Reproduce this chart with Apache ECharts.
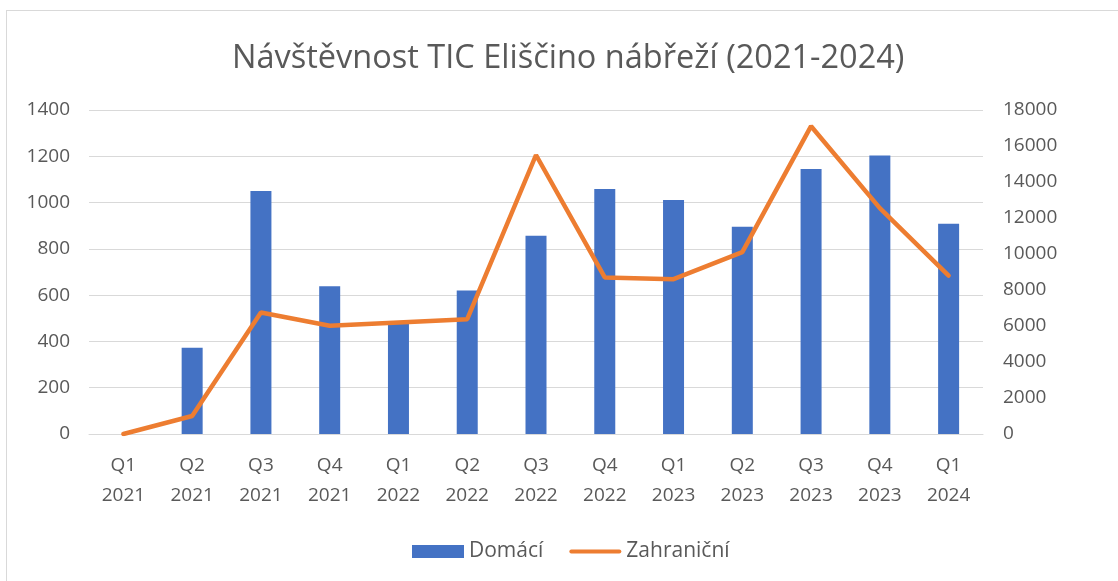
<!DOCTYPE html>
<html lang="cs">
<head>
<meta charset="utf-8">
<title>Návštěvnost TIC Eliščino nábřeží</title>
<script src="https://cdn.jsdelivr.net/npm/echarts@6/dist/echarts.min.js"></script>
<style>
  html, body {
    margin: 0;
    padding: 0;
    background: #fff;
  }

  .frame {
    position: absolute;
    left: 6px;
    top: 10px;
    width: 1200px;
    height: 700px;
    border-left: 1.5px solid #d9d9d9;
    border-top: 1.5px solid #d9d9d9;
  }

  #chart {
    position: absolute;
    left: 0;
    top: 0;
    width: 1118px;
    height: 581px;
  }
</style>
</head>
<body>
<div class="frame"></div>
<div id="chart"></div>

<script>
// kvartály
const quarters = ["Q1\n2021", "Q2\n2021", "Q3\n2021", "Q4\n2021", "Q1\n2022", "Q2\n2022", "Q3\n2022",
  "Q4\n2022", "Q1\n2023", "Q2\n2023", "Q3\n2023", "Q4\n2023", "Q1\n2024"];

// návštěvníci
const domaci = [0, 373, 1050, 638, 480, 620, 857, 1059, 1011, 895, 1145, 1203, 909];
const zahranicni = [0, 1000, 6750, 6010, 6200, 6380, 15500, 8700, 8600, 10100, 17100, 12550, 8800];

const textColor = "#595959";
const font = "'Open Sans', sans-serif";

// legenda pro čáru - jen tlustá čára bez bodu
const lineIcon = "path://M2,0 h48 a2,2 0 0 1 0,4 h-48 a2,2 0 0 1 0,-4z";

const chart = echarts.init(document.getElementById("chart"));

chart.setOption({
  animation: false,
  title: {
    text: "Návštěvnost TIC Eliščino nábřeží (2021-2024)",
    left: 227,
    top: 37,
    textStyle: {
      color: textColor,
      fontFamily: font,
      fontWeight: "normal",
      fontSize: 32.5
    }
  },
  legend: {
    bottom: 14,
    left: 407,
    itemGap: 26,
    itemWidth: 52,
    itemHeight: 13,
    textStyle: {
      color: textColor,
      fontFamily: font,
      fontSize: 21
    },
    data: [
      { name: "Domácí", icon: "rect" },
      { name: "Zahraniční", icon: lineIcon }
    ]
  },
  grid: {
    left: 89,
    right: 135,
    top: 110,
    bottom: 147
  },
  xAxis: {
    type: "category",
    data: quarters,
    axisLine: { lineStyle: { color: "#d9d9d9", width: 1 } },
    axisTick: { show: false },
    axisLabel: {
      color: textColor,
      fontFamily: font,
      fontSize: 19,
      lineHeight: 30,
      margin: 17
    }
  },
  yAxis: [
    {
      type: "value",
      min: 0,
      max: 1400,
      interval: 200,
      axisLine: { show: false },
      axisTick: { show: false },
      splitLine: { lineStyle: { color: "#d9d9d9", width: 1 } },
      axisLabel: {
        color: textColor,
        fontFamily: font,
        fontSize: 19,
        margin: 19,
        formatter: (v) => String(v)
      }
    },
    {
      type: "value",
      min: 0,
      max: 18000,
      interval: 2000,
      axisLine: { show: false },
      axisTick: { show: false },
      splitLine: { show: false },
      axisLabel: {
        color: textColor,
        fontFamily: font,
        fontSize: 19,
        margin: 20,
        formatter: (v) => String(v)
      }
    }
  ],
  series: [
    {
      name: "Domácí",
      type: "bar",
      data: domaci,
      barWidth: 21,
      itemStyle: { color: "#4472c4" }
    },
    {
      name: "Zahraniční",
      type: "line",
      yAxisIndex: 1,
      data: zahranicni,
      symbol: "none",
      lineStyle: { color: "#ed7d31", width: 4.5, cap: "round" },
      itemStyle: { color: "#ed7d31" }
    }
  ]
});
</script>
</body>
</html>
